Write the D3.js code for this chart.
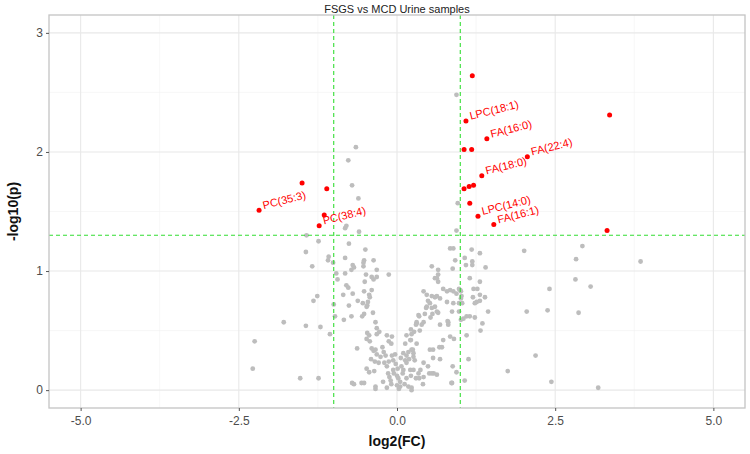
<!DOCTYPE html>
<html><head><meta charset="utf-8">
<script src="https://cdn.jsdelivr.net/npm/d3@7"></script>
<style>body{margin:0;background:#fff}svg{display:block}text{font-family:"Liberation Sans",Arial,sans-serif}</style>
</head><body><svg id="c" width="750" height="454"></svg>
<script>
const title = "FSGS vs MCD Urine samples";
const xTicks = [-5, -2.5, 0, 2.5, 5];
const yTicks = [0, 1, 2, 3];
const fcCut = [-1, 1];
const pCut = 1.3;
// significant (red) points: log2FC, -log10p, label
const sigX = [-2.18,-1.50,-1.11,-1.15,-1.23, 1.19,3.36,1.09,1.42,1.06,1.18,2.06,1.34,1.06,1.14,1.21,1.15,1.28,1.53,3.32];
const sigY = [1.51,1.74,1.69,1.47,1.38, 2.64,2.31,2.26,2.11,2.02,2.02,1.96,1.80,1.69,1.71,1.72,1.57,1.46,1.39,1.34];
const sigLabel = ["PC(35:3)","","","","PC(38:4)", "","","LPC(18:1)","FA(16:0)","","","FA(22:4)","FA(18:0)","","","","","LPC(14:0)","FA(16:1)",""];
// non-significant (grey) points
const nsX = [-0.65,-0.77,-0.71,-0.61,-0.82,-0.80,-0.60,-1.43,-1.24,-0.76,-1.44,-0.50,-1.08,-1.09,-0.82,-1.01,-0.52,-1.34,-0.70,-0.68,
-0.53,-0.53,-0.96,-0.82,-0.49,-0.94,-0.40,-0.37,-0.32,-0.13,-0.80,-0.77,-0.52,-0.40,-0.44,-0.43,-0.85,-0.70,-1.26,-1.32,
-0.62,-0.46,-0.47,-0.48,-1.00,-0.76,-0.52,-0.55,-0.38,-0.98,-0.84,-0.72,-1.79,-0.34,-1.44,-1.21,-1.06,-0.47,-0.44,-0.48,
-0.43,-0.32,-0.28,-0.32,-0.16,-0.08,-0.13,-0.09,-2.25,-0.63,-0.40,-0.37,-0.34,-0.32,-0.23,-0.21,-0.18,-0.41,-0.35,-0.29,
-0.26,-0.08,-0.06,-0.20,-0.16,-0.48,-0.44,-0.36,-2.28,-1.53,-1.24,-0.71,-0.56,-0.34,-0.34,-0.22,-0.16,-0.14,-0.12,-0.06,
-0.05,0.00,0.02,0.05,0.00,0.05,0.09,0.10,-0.10,0.12,0.07,-0.02,0.15,-0.09,0.03,0.18,0.22,-0.03,0.01,0.06,-0.13,
0.13,0.15,0.18,0.23,0.26,0.28,0.22,0.23,0.27,0.31,0.35,0.42,0.44,0.47,0.52,0.55,0.60,0.63,0.42,0.47,
0.65,0.73,0.79,0.65,0.55,0.84,0.89,0.94,0.96,1.07,1.09,1.00,1.03,1.05,1.13,1.07,0.87,-0.68,-0.52,1.15,
0.84,0.81,0.73,0.57,0.67,0.37,0.42,0.51,0.58,0.23,0.30,0.21,
0.88,1.19,1.40,0.60,1.15,1.31,0.65,0.84,0.89,0.94,1.01,1.01,0.98,0.55,0.63,0.68,0.49,0.79,0.89,0.98,
1.02,1.20,1.27,1.31,1.39,1.23,1.26,1.44,0.60,0.46,0.56,0.53,0.65,0.87,0.98,1.01,1.10,1.23,0.34,0.31,
0.30,0.39,0.68,0.80,0.81,1.35,1.32,1.10,0.22,0.36,0.15,0.21,0.13,0.31,0.90,0.71,0.52,0.25,0.10,0.57,
0.68,0.26,0.19,0.15,0.42,0.49,0.88,0.26,0.34,0.55,0.63,0.94,0.35,0.41,0.86,0.23,
2.93,2.01,2.83,3.85,1.31,2.82,3.06,2.41,1.31,2.05,2.38,2.87,2.19,1.75,2.44,3.18,
1.18,0.92,1.19,0.63,1.21,0.94,-0.37,-0.72,-0.32,-0.51,-0.54];
const nsY = [2.04,1.93,1.72,1.61,1.36,1.38,1.33,1.30,1.25,1.23,1.16,1.18,1.12,1.09,1.11,1.07,1.09,1.04,1.05,1.03,
1.07,1.04,0.98,0.98,0.97,0.93,0.95,0.93,0.95,0.97,0.88,0.86,0.83,0.84,0.80,0.78,0.80,0.81,0.79,0.75,
0.75,0.74,0.71,0.70,0.72,0.71,0.64,0.62,0.65,0.62,0.59,0.62,0.57,0.57,0.54,0.53,0.47,0.48,0.46,0.43,
0.41,0.52,0.49,0.47,0.46,0.45,0.41,0.39,0.41,0.35,0.35,0.33,0.34,0.30,0.36,0.32,0.29,0.26,0.24,0.23,
0.28,0.29,0.25,0.23,0.20,0.18,0.15,0.16,0.18,0.10,0.10,0.06,0.06,0.03,0.01,0.07,0.02,0.14,0.11,0.17,
0.14,0.12,0.10,0.07,0.04,0.03,0.14,0.17,0.08,0.05,0.20,0.22,0.10,0.05,0.01,0.03,0.12,0.30,0.18,0.27,0.24,
0.25,0.29,0.32,0.34,0.31,0.25,0.42,0.47,0.49,0.56,0.62,0.57,0.64,0.70,0.73,0.69,0.78,0.66,0.83,0.80,
1.01,0.85,0.83,0.97,1.04,1.19,1.19,1.34,1.57,1.11,1.05,0.84,0.73,0.60,0.26,0.08,0.06,0.05,0.06,0.62,
0.45,0.57,0.42,0.34,0.36,0.17,0.11,0.14,0.14,0.00,0.10,0.17,
1.02,1.05,1.03,0.94,0.94,0.91,0.91,0.84,0.83,0.81,0.83,0.77,0.85,0.79,0.79,0.77,0.75,0.74,0.73,0.73,
0.79,0.78,0.85,0.80,0.78,0.73,0.74,0.66,0.70,0.69,0.64,0.61,0.65,0.66,0.66,0.59,0.62,0.61,0.63,0.57,
0.55,0.55,0.55,0.58,0.55,0.56,0.50,0.46,0.51,0.50,0.46,0.42,0.39,0.39,0.43,0.36,0.34,0.34,0.31,0.27,
0.26,0.28,0.26,0.23,0.23,0.20,0.20,0.17,0.14,0.14,0.13,0.15,0.10,0.05,0.06,0.02,
1.21,1.17,1.10,1.08,1.15,0.93,0.87,0.85,0.75,0.66,0.67,0.65,0.29,0.16,0.07,0.02,
1.18,1.09,1.08,0.94,0.85,2.48,1.09,1.01,1.01,0.91,0.73];

const svg = d3.select("#c");
const m = {l:49, r:745, t:15, b:408};
const x = d3.scaleLinear().domain([-5.5, 5.5]).range([m.l, m.r]);
const y = d3.scaleLinear().domain([-0.15, 3.15]).range([m.b, m.t]);

// grid
const g = svg.append("g");
const xMinor = [-3.75,-1.25,1.25,3.75], yMinor = [0.5,1.5,2.5];
g.selectAll(".xm").data(xMinor).join("line").attr("x1",d=>x(d)).attr("x2",d=>x(d)).attr("y1",m.t).attr("y2",m.b).attr("stroke","#f2f2f2").attr("stroke-width",0.6);
g.selectAll(".ym").data(yMinor).join("line").attr("y1",d=>y(d)).attr("y2",d=>y(d)).attr("x1",m.l).attr("x2",m.r).attr("stroke","#f2f2f2").attr("stroke-width",0.6);
g.selectAll(".xg").data(xTicks).join("line").attr("x1",d=>x(d)).attr("x2",d=>x(d)).attr("y1",m.t).attr("y2",m.b).attr("stroke","#e8e8e8").attr("stroke-width",1.1);
g.selectAll(".yg").data(yTicks).join("line").attr("y1",d=>y(d)).attr("y2",d=>y(d)).attr("x1",m.l).attr("x2",m.r).attr("stroke","#e8e8e8").attr("stroke-width",1.1);

// points
const ns = nsX.map((v,i)=>({x:v,y:nsY[i]}));
svg.append("g").selectAll("circle").data(ns).join("circle")
  .attr("cx",d=>x(d.x)).attr("cy",d=>y(d.y)).attr("r",2.4).attr("fill","#bdbdbd");

// threshold lines
const dash = svg.append("g").attr("stroke","#33dd33").attr("stroke-width",1.1).attr("stroke-dasharray","4,3");
dash.selectAll(".v").data(fcCut).join("line").attr("x1",d=>x(d)).attr("x2",d=>x(d)).attr("y1",m.t).attr("y2",m.b);
dash.append("line").attr("x1",m.l).attr("x2",m.r).attr("y1",y(pCut)).attr("y2",y(pCut));

const sig = sigX.map((v,i)=>({x:v,y:sigY[i],lab:sigLabel[i]}));
svg.append("g").selectAll("circle").data(sig).join("circle")
  .attr("cx",d=>x(d.x)).attr("cy",d=>y(d.y)).attr("r",2.5).attr("fill","#ff0000");
svg.append("g").selectAll("text").data(sig.filter(d=>d.lab)).join("text")
  .attr("transform",d=>`translate(${x(d.x)+4},${y(d.y)-4}) rotate(-14)`)
  .attr("dominant-baseline","middle").attr("font-size",11).attr("fill","#ff0000").text(d=>d.lab);

// panel border
svg.append("rect").attr("x",m.l).attr("y",m.t).attr("width",m.r-m.l).attr("height",m.b-m.t)
  .attr("fill","none").attr("stroke","#c4c4c4").attr("stroke-width",1.3);

// axes
const fmt = d => d3.format(".1f")(d).replace("\u2212","-");
const xa = svg.append("g").attr("transform",`translate(0,${m.b})`)
  .call(d3.axisBottom(x).tickValues(xTicks).tickFormat(fmt).tickSize(3).tickSizeOuter(0));
const ya = svg.append("g").attr("transform",`translate(${m.l},0)`)
  .call(d3.axisLeft(y).tickValues(yTicks).tickFormat(d3.format("d")).tickSize(3).tickSizeOuter(0));
[xa,ya].forEach(a=>{a.select(".domain").remove();a.selectAll("line").attr("stroke","#555");
  a.selectAll("text").attr("font-size",12).attr("fill","#4d4d4d").attr("font-family","Liberation Sans, Arial, sans-serif");});
xa.selectAll("text").attr("dy","0.9em");

svg.append("text").attr("x",(m.l+m.r)/2).attr("y",10).attr("text-anchor","middle").attr("dominant-baseline","middle")
  .attr("font-size",11).attr("fill","#222").text(title);
svg.append("text").attr("x",(m.l+m.r)/2).attr("y",442).attr("text-anchor","middle").attr("dominant-baseline","middle")
  .attr("font-size",14).attr("font-weight","bold").attr("fill","#111").text("log2(FC)");
svg.append("text").attr("transform",`translate(14,${(m.t+m.b)/2}) rotate(-90)`).attr("text-anchor","middle").attr("dominant-baseline","middle")
  .attr("font-size",14).attr("font-weight","bold").attr("fill","#111").text("-log10(p)");
</script></body></html>
